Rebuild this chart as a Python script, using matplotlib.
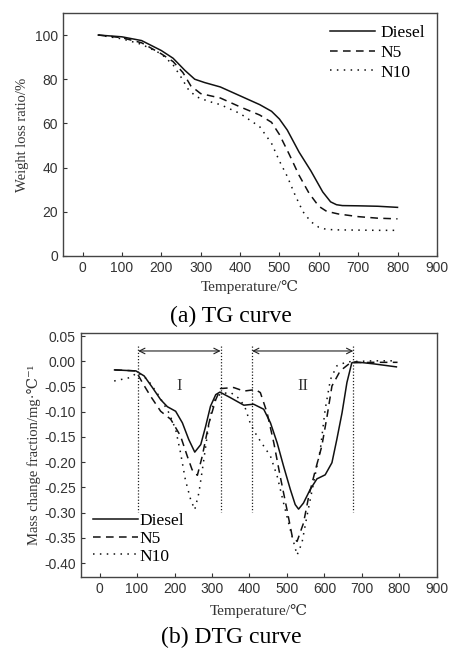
import matplotlib.pyplot as plt
from matplotlib.ticker import FormatStrFormatter

plt.rcParams['axes.unicode_minus'] = False
serif = ['Liberation Serif', 'DejaVu Serif']
sans = ['Liberation Sans', 'DejaVu Sans']

# ---- TG data (temperature / weight %) ----
tg_diesel_t = [40, 100, 150, 200, 230, 260, 285, 310, 350, 400, 450, 480, 500, 520, 550, 580, 610, 630, 645, 660, 700, 750, 800]
tg_diesel_w = [100, 99.2, 97.5, 93, 89.5, 84, 80, 78.5, 76.5, 72.5, 68.5, 65.5, 62, 57, 47, 38.5, 29, 24.5, 23.2, 22.8, 22.7, 22.5, 22]
tg_n5_t = [40, 100, 150, 200, 230, 255, 275, 300, 350, 400, 450, 480, 500, 525, 550, 575, 600, 620, 650, 700, 750, 800]
tg_n5_w = [100, 98.8, 96.5, 91.5, 88, 83, 77, 73.5, 71.5, 67.5, 63.8, 60.5, 55, 46, 36.5, 28.5, 22.5, 20.2, 19, 17.8, 17.1, 16.8]
tg_n10_t = [40, 100, 150, 200, 230, 250, 270, 290, 320, 350, 400, 450, 480, 500, 520, 540, 560, 580, 600, 620, 650, 700, 750, 800]
tg_n10_w = [100, 98.3, 95.8, 91.5, 86.5, 81, 75, 72, 70, 68.5, 64.5, 58.5, 51, 43, 36, 27.5, 20, 15.5, 13, 12, 11.8, 11.7, 11.6, 11.6]

# ---- DTG data (temperature / mg per degC) ----
dtg_diesel_t = [40, 97, 119, 141, 163, 181, 203, 221, 238, 254, 270, 283, 296, 310, 321, 349, 385, 411, 438, 456, 474, 491,
                509, 522, 531, 544, 562, 580, 602, 620, 633, 647, 660, 673, 682, 731, 792]
dtg_diesel_v = [-0.017, -0.019, -0.029, -0.052, -0.076, -0.09, -0.099, -0.122, -0.155, -0.18, -0.165, -0.129, -0.089, -0.066,
                -0.061, -0.072, -0.087, -0.085, -0.095, -0.122, -0.162, -0.208, -0.254, -0.284, -0.293, -0.281, -0.254,
                -0.233, -0.225, -0.201, -0.155, -0.102, -0.042, -0.003, -0.001, -0.005, -0.011]
dtg_n5_t = [40, 97, 114, 136, 163, 190, 216, 234, 247, 261, 274, 292, 310, 323, 358, 385, 416, 429, 447, 465, 482, 500,
            514, 527, 544, 558, 576, 593, 607, 620, 642, 669, 730, 795]
dtg_n5_v = [-0.017, -0.019, -0.042, -0.069, -0.099, -0.115, -0.148, -0.188, -0.215, -0.226, -0.188, -0.122, -0.076, -0.054,
            -0.052, -0.059, -0.056, -0.062, -0.102, -0.162, -0.228, -0.294, -0.347, -0.357, -0.321, -0.268, -0.215, -0.168,
            -0.109, -0.049, -0.019, -0.003, -0.002, -0.002]
dtg_n10_t = [39, 83, 101, 128, 159, 185, 203, 216, 229, 243, 254, 265, 277, 292, 305, 323, 350, 375, 390, 403, 420, 438,
             456, 474, 491, 509, 527, 540, 553, 571, 589, 602, 616, 633, 660, 731, 792]
dtg_n10_v = [-0.039, -0.032, -0.022, -0.036, -0.069, -0.102, -0.135, -0.181, -0.235, -0.274, -0.294, -0.261, -0.201, -0.122,
             -0.079, -0.064, -0.062, -0.075, -0.095, -0.125, -0.148, -0.168, -0.188, -0.228, -0.281, -0.334, -0.384, -0.36,
             -0.308, -0.241, -0.175, -0.095, -0.036, -0.009, -0.001, 0.001, 0.001]

stage_bounds = [103, 323, 407, 677]
stage_names = ['I', 'II']

fig = plt.figure(figsize=(4.49, 6.48), dpi=100)
ax1 = fig.add_axes([0.140, 0.605, 0.833, 0.375])
ax2 = fig.add_axes([0.180, 0.110, 0.793, 0.376])

styles = [('-', 'Diesel'), ((0, (5, 3.5)), 'N5'), ((0, (1, 3.5)), 'N10')]

# TG
for (ls, name), t, w in zip(styles, [tg_diesel_t, tg_n5_t, tg_n10_t], [tg_diesel_w, tg_n5_w, tg_n10_w]):
    ax1.plot(t, w, color='#111111', lw=1.1, ls=ls, label=name)
ax1.set_xlim(-50, 900)
ax1.set_ylim(0, 110)
ax1.set_xticks(range(0, 901, 100))
ax1.set_yticks(range(0, 101, 20))
ax1.set_ylabel('Weight loss ratio/%', family=serif, fontsize=10.5, color='#333333')
ax1.set_xlabel('Temperature/℃', family=serif, fontsize=11, color='#333333', labelpad=4)
ax1.legend(loc='upper right', frameon=False, prop={'family': serif, 'size': 12.5},
           handlelength=2.6, handletextpad=0.3, labelspacing=0.2, borderaxespad=0.3)

# DTG
for (ls, name), t, v in zip(styles, [dtg_diesel_t, dtg_n5_t, dtg_n10_t], [dtg_diesel_v, dtg_n5_v, dtg_n10_v]):
    ax2.plot(t, v, color='#111111', lw=1.1, ls=ls, label=name)
for b in stage_bounds:
    ax2.plot([b, b], [0.030, -0.298], color='#222222', lw=0.9, ls=(0, (1, 1.5)))
for i, name in enumerate(stage_names):
    a, b = stage_bounds[2 * i], stage_bounds[2 * i + 1]
    ax2.annotate('', xy=(a, 0.0205), xytext=(b, 0.0205),
                 arrowprops=dict(arrowstyle='<->', color='#222222', lw=0.8, shrinkA=0, shrinkB=0))
    ax2.text((a + b) / 2, -0.048, name, family=serif, fontsize=12, ha='center', va='center', color='#333333')
ax2.set_xlim(-50, 900)
ax2.set_ylim(-0.427, 0.056)
ax2.set_xticks(range(0, 901, 100))
ax2.set_yticks([0.05 - 0.05 * k for k in range(10)])
ax2.yaxis.set_major_formatter(FormatStrFormatter('%.2f'))
ax2.set_ylabel('Mass change fraction/mg·℃⁻¹', family=serif, fontsize=10.5, color='#333333', labelpad=2)
ax2.set_xlabel('Temperature/℃', family=serif, fontsize=11, color='#333333', labelpad=6)
ax2.legend(loc='lower left', frameon=False, prop={'family': serif, 'size': 12.5},
           handlelength=2.6, handletextpad=0.1, labelspacing=0.1, borderaxespad=0.3)

for ax in (ax1, ax2):
    ax.tick_params(direction='in', length=3, width=0.8, labelsize=10, colors='#333333')
    for lab in ax.get_xticklabels() + ax.get_yticklabels():
        lab.set_family(sans)
    for s in ax.spines.values():
        s.set_color('#444444')
        s.set_linewidth(1.0)

fig.text(0.515, 1 - 316 / 648, '(a) TG curve', family=serif, fontsize=17, ha='center', va='center')
fig.text(0.515, 1 - 637 / 648, '(b) DTG curve', family=serif, fontsize=17, ha='center', va='center')

fig.savefig('out.png', dpi=100, facecolor='white')
